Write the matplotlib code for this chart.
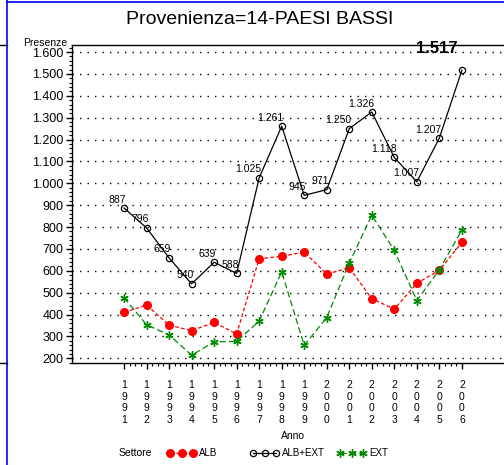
import matplotlib
matplotlib.use("Agg")
import matplotlib.pyplot as plt
from matplotlib.lines import Line2D
from matplotlib.ticker import FixedLocator, MultipleLocator, FuncFormatter

plt.rcParams['font.family'] = ['Liberation Sans', 'DejaVu Sans']

# data
anni = [1991, 1992, 1993, 1994, 1995, 1996, 1997, 1998, 1999, 2000,
        2001, 2002, 2003, 2004, 2005, 2006]
alb = [410, 443, 352, 326, 364, 311, 655, 666, 686, 585, 614, 472, 425, 543, 602, 730]
ext = [477, 353, 307, 214, 275, 277, 370, 595, 259, 386, 636, 854, 693, 464, 605, 787]
tot = [887, 796, 659, 540, 639, 588, 1025, 1261, 945, 971, 1250, 1326, 1118, 1007, 1207, 1517]
tot_labels = ['887', '796', '659', '540', '639', '588', '1.025', '1.261', '945', '971',
              '1.250', '1.326', '1.118', '1.007', '1.207']
titolo = 'Provenienza=14-PAESI BASSI'


def it_fmt(v, pos):
    return f"{int(v):,}".replace(',', '.')


fig = plt.figure(figsize=(5.04, 4.65), dpi=100)
ax = fig.add_axes([72 / 504, (465 - 363.3) / 465, 432 / 504, (363.3 - 45.3) / 465])

ax.set_xlim(1988.69, 2007.87)
ax.set_ylim(177, 1631)

# gridlines
for v in range(200, 1700, 100):
    ax.axhline(v, color='black', lw=1.0, ls=(0, (1, 4.4)), zorder=1)

ax.plot(anni, alb, color='red', lw=0.9, ls=(0, (3, 1.8)), marker='o', ms=5.5,
        mfc='red', mec='red', zorder=3, label='ALB')
ax.plot(anni, tot, color='black', lw=0.9, ls='-', marker='o', ms=4.5,
        mfc='none', mec='black', mew=0.9, zorder=3, label='ALB+EXT')
ax.plot(anni, ext, color='#008a00', lw=0.9, ls=(0, (5, 2.5)), marker=(6, 2, 0), ms=6,
        mec='#008a00', mew=1.0, zorder=3, label='EXT')

for x, y, s in zip(anni, tot, tot_labels):
    ax.annotate(s, (x, y), xytext=(1.5, 2.5), textcoords='offset points',
                ha='right', va='bottom', fontsize=7.5, zorder=4)

ax.annotate(it_fmt(tot[-1], None), (anni[-1], tot[-1]), xytext=(-18, 16),
            textcoords='offset points', ha='center', va='center',
            fontsize=12, fontweight='bold', zorder=5, annotation_clip=False)

# axes styling
ax.spines['right'].set_visible(False)
for s in ['left', 'bottom', 'top']:
    ax.spines[s].set_linewidth(1.0)

ax.set_xticks(anni)
ax.set_xticklabels(['\n'.join(str(a)) for a in anni], fontsize=7.5, linespacing=1.2)
minor_x = [a + f for a in anni[:-1] for f in (0.25, 0.5, 0.75)]
ax.xaxis.set_minor_locator(FixedLocator(minor_x))
ax.yaxis.set_major_locator(MultipleLocator(100))
ax.yaxis.set_minor_locator(MultipleLocator(20))
ax.yaxis.set_major_formatter(FuncFormatter(it_fmt))
ax.set_yticks(range(200, 1700, 100))
ax.tick_params(axis='y', which='major', direction='out', length=4, width=1,
               labelsize=9, pad=2)
ax.tick_params(axis='x', which='major', direction='out', length=4, width=1,
               pad=8, labelsize=7.5)
ax.tick_params(axis='both', which='minor', direction='out', length=2, width=0.8)
ax.set_ylim(177, 1631)

fig.text(67 / 504, 1 - 43 / 465, 'Presenze', ha='right', va='center', fontsize=7.5)
fig.text(260 / 504, 1 - 20 / 465, titolo, ha='center', va='center', fontsize=14)
fig.text(293 / 504, 1 - 436 / 465, 'Anno', ha='center', va='center', fontsize=7.5)
fig.text(119 / 504, 1 - 453 / 465, 'Settore', ha='left', va='center', fontsize=7.5)

# one legend entry per position, as in the reference
handles, labels = ax.get_legend_handles_labels()
for h, l, x0 in zip(handles, labels, [167, 250, 337]):
    fig.legend([h], [l], loc='center left', bbox_to_anchor=(x0 / 504, 1 - 453 / 465),
               frameon=False, numpoints=3, handlelength=3.0, handletextpad=0.3,
               fontsize=7, borderpad=0, borderaxespad=0)

# page frame lines around the plot
fig.add_artist(Line2D([7 / 504, 7 / 504], [0, 1], color='blue', lw=1.2,
                      transform=fig.transFigure))
fig.add_artist(Line2D([7 / 504, 1], [1 - 2.5 / 465, 1 - 2.5 / 465], color='blue', lw=1.2,
                      transform=fig.transFigure))
fig.add_artist(Line2D([0, 7 / 504], [1 - 44.7 / 465, 1 - 44.7 / 465], color='black', lw=1,
                      transform=fig.transFigure))
fig.add_artist(Line2D([0, 7 / 504], [1 - 363.3 / 465, 1 - 363.3 / 465], color='black', lw=1,
                      transform=fig.transFigure))

fig.savefig('out.png', dpi=100)
